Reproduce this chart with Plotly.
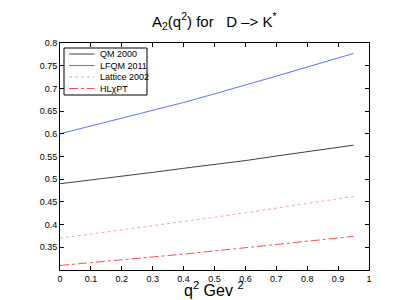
import plotly.graph_objects as go

q2 = [0.0, 0.1, 0.2, 0.3, 0.4, 0.5, 0.6, 0.7, 0.8, 0.9, 0.95]
qm2000 = [0.490, 0.498, 0.507, 0.515, 0.524, 0.532, 0.541, 0.551, 0.560, 0.570, 0.575]
lfqm2011 = [0.600, 0.617, 0.634, 0.651, 0.669, 0.688, 0.707, 0.727, 0.747, 0.768, 0.777]
lattice2002 = [0.370, 0.379, 0.388, 0.397, 0.406, 0.416, 0.426, 0.436, 0.446, 0.457, 0.462]
hlchpt = [0.310, 0.316, 0.322, 0.329, 0.335, 0.342, 0.349, 0.356, 0.363, 0.370, 0.374]

names = ["QM 2000", "LFQM 2011", "Lattice 2002", "HL\u03c7PT"]
xticks = [0, 0.1, 0.2, 0.3, 0.4, 0.5, 0.6, 0.7, 0.8, 0.9, 1]
xticklabels = ["0", "0.1", "0.2", "0.3", "0.4", "0.5", "0.6", "0.7", "0.8", "0.9", "1"]
yticks = [0.35, 0.4, 0.45, 0.5, 0.55, 0.6, 0.65, 0.7, 0.75, 0.8]
yticklabels = ["0.35", "0.4", "0.45", "0.5", "0.55", "0.6", "0.65", "0.7", "0.75", "0.8"]

styles = [
    dict(color="#404040", width=1, dash="solid"),
    dict(color="#5f6fff", width=1, dash="solid"),
    dict(color="#ff9fa8", width=1, dash="dot"),
    dict(color="#ff4d4d", width=1, dash="dashdot"),
]

W, H = 399, 300
L, R, T, B = 52, 38, 35, 38
pw, ph = W - L - R, H - T - B


def px(xp):
    return (xp - L) / pw


def py(yp):
    return (H - B - yp) / ph


fig = go.Figure()
for name, ys, st in zip(names, [qm2000, lfqm2011, lattice2002, hlchpt], styles):
    fig.add_trace(go.Scatter(x=q2, y=ys, mode="lines", name=name, line=st, showlegend=False))

font = "Liberation Sans, Arial, Helvetica, sans-serif"

# manual legend box (Matlab-style compact legend)
shapes = [dict(type="rect", xref="paper", yref="paper", x0=px(56), x1=px(139), y0=py(87), y1=py(40),
               line=dict(color="black", width=1), fillcolor="white", layer="above")]
annotations = []
row_y = [46, 57.5, 69, 80.5]
for name, st, ry in zip(names, styles, row_y):
    shapes.append(dict(type="line", xref="paper", yref="paper", x0=px(61), x1=px(86.5),
                       y0=py(ry), y1=py(ry), line=dict(st), layer="above"))
    annotations.append(dict(text=name, xref="paper", yref="paper", x=px(89.5), y=py(ry),
                            xanchor="left", yanchor="middle", showarrow=False,
                            font=dict(size=9, color="black", family=font)))

# x-axis title
annotations.append(dict(text="q<sup>2</sup> Gev <sup>2</sup>", xref="paper", yref="paper",
                        x=px(206), y=py(281), xanchor="center", yanchor="middle", showarrow=False,
                        font=dict(size=16, color="black", family=font)))

axis_common = dict(
    showgrid=False, zeroline=False, showline=True, linecolor="black", linewidth=1,
    mirror="ticks", ticks="inside", ticklen=4, tickcolor="black",
    tickfont=dict(size=9, color="black", family=font),
)
fig.update_layout(
    width=W, height=H,
    margin=dict(l=L, r=R, t=T, b=B),
    paper_bgcolor="white", plot_bgcolor="white",
    title=dict(text="A<sub>2</sub>(q<sup>2</sup>) for\u00a0\u00a0\u00a0D \u2013> K<sup>*</sup>",
               x=0.517, xanchor="center", y=0.955, yanchor="middle",
               font=dict(size=15, color="black", family=font)),
    xaxis=dict(range=[0, 1], tickvals=xticks, ticktext=xticklabels, **axis_common),
    yaxis=dict(range=[0.3, 0.8], tickvals=yticks, ticktext=yticklabels, **axis_common),
    shapes=shapes,
    annotations=annotations,
    showlegend=False,
)
fig.write_html("out.html")
